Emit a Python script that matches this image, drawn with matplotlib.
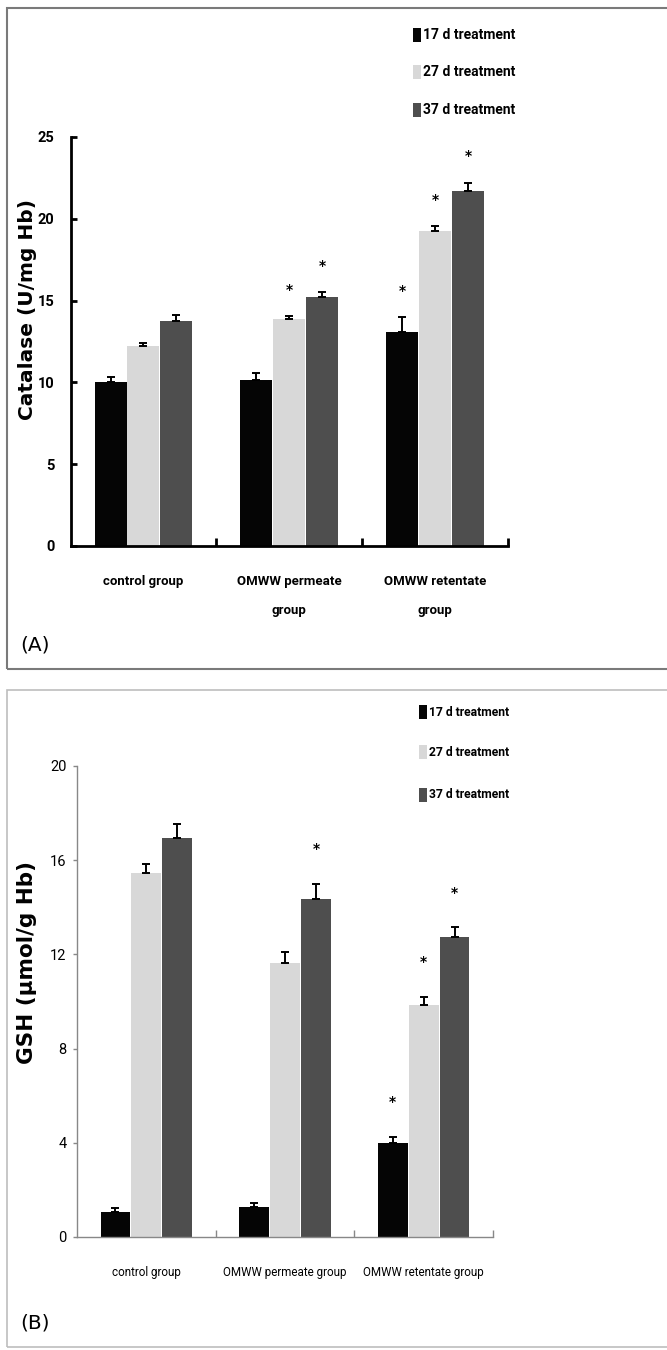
import numpy as np
import matplotlib
matplotlib.use("Agg")
import matplotlib.pyplot as plt
from matplotlib.patches import Rectangle

# data
groups_a = ["control group", "OMWW permeate\ngroup", "OMWW retentate\ngroup"]
groups_b = ["control group", "OMWW permeate group", "OMWW retentate group"]
series = ["17 d treatment", "27 d treatment", "37 d treatment"]
colors = ["#050505", "#d8d8d8", "#4e4e4e"]

catalase = [[10.0, 10.15, 13.1],
            [12.2, 13.9, 19.25],
            [13.75, 15.2, 21.7]]
catalase_err = [[0.3, 0.45, 0.9],
                [0.2, 0.15, 0.3],
                [0.35, 0.3, 0.5]]
catalase_sig = [[False, False, True],
                [False, True, True],
                [False, True, True]]

gsh = [[1.06, 1.27, 4.0],
       [15.45, 11.65, 9.85],
       [16.95, 14.35, 12.75]]
gsh_err = [[0.17, 0.17, 0.25],
           [0.4, 0.45, 0.35],
           [0.6, 0.65, 0.4]]
gsh_sig = [[False, False, True],
           [False, False, True],
           [False, True, True]]

W, H = 667, 1350
NARROW = ["Roboto", "DejaVu Sans"]

fig = plt.figure(figsize=(W / 100, H / 100), dpi=100)


def fx(px):
    return px / W


def fy(py):
    return 1 - py / H


def draw_panel(ax, vals, errs, sig, width, offset, star_off, bold_axes):
    x = np.arange(3)
    for i in range(3):
        xi = x + (i - 1) * offset
        ax.bar(xi, vals[i], width=width, color=colors[i], zorder=2)
        ax.errorbar(xi, vals[i], yerr=[np.zeros(3), errs[i]], fmt="none",
                    ecolor="black", elinewidth=1.4, capsize=3, capthick=1.4, zorder=3)
        for j in range(3):
            if sig[i][j]:
                ax.annotate("*", xy=(xi[j], vals[i][j] + errs[i][j]),
                            xytext=(0, star_off), textcoords="offset points",
                            ha="center", va="center", fontsize=10, fontweight="bold")
    ax.set_xlim(-0.5, 2.5)
    for s in ["top", "right"]:
        ax.spines[s].set_visible(False)
    if bold_axes:
        for s in ["left", "bottom"]:
            ax.spines[s].set_linewidth(2)
            ax.spines[s].set_color("black")
    else:
        for s in ["left", "bottom"]:
            ax.spines[s].set_linewidth(1)
            ax.spines[s].set_color("#888888")
    ax.set_xticks([0.5, 1.5, 2.5])
    ax.set_xticklabels([])
    ax.set_xticks(x, minor=True)
    ax.patch.set_alpha(0)


# panel frames
fig.add_artist(Rectangle((fx(7), fy(669)), fx(700), 661 / H, transform=fig.transFigure,
                         fill=False, edgecolor="#7a7a7a", lw=1.5))
fig.add_artist(Rectangle((fx(7), fy(1347)), fx(700), 657 / H, transform=fig.transFigure,
                         fill=False, edgecolor="#bdbdbd", lw=1.2))

# (A) catalase
axa = fig.add_axes([fx(70.5), fy(546), fx(437.5), 409 / H])
draw_panel(axa, catalase, catalase_err, catalase_sig, 0.22, 0.225, 19, True)
axa.set_ylim(0, 25)
axa.set_yticks([0, 5, 10, 15, 20, 25])
axa.tick_params(axis="y", direction="in", length=4, width=2, pad=11.5)
axa.tick_params(axis="x", which="major", direction="in", length=6, width=2)
axa.tick_params(axis="x", which="minor", length=0, pad=21)
for lab in axa.get_yticklabels():
    lab.set_family(NARROW)
    lab.set_fontweight("bold")
    lab.set_fontsize(10.5)
axa.set_xticklabels(groups_a, minor=True, family=NARROW, fontweight="bold",
                    fontsize=9.5, linespacing=2.6)
fig.text(fx(28), fy(309), "Catalase (U/mg Hb)", rotation=90, ha="center", va="center",
         fontsize=14.5, fontweight="bold")
fig.text(fx(20), fy(645), "(A)", fontsize=14.5, va="center", ha="left")

# (B) GSH
axb = fig.add_axes([fx(77), fy(1237), fx(416), 471 / H])
draw_panel(axb, gsh, gsh_err, gsh_sig, 0.215, 0.223, 25, False)
axb.set_ylim(0, 20)
axb.set_yticks([0, 4, 8, 12, 16, 20])
axb.tick_params(axis="y", direction="out", length=3, width=1, color="#888888", pad=4.5)
axb.tick_params(axis="x", which="major", direction="in", length=5, width=1, color="#888888")
axb.tick_params(axis="x", which="minor", length=0, pad=21)
for lab in axb.get_yticklabels():
    lab.set_family(NARROW)
    lab.set_fontsize(10.5)
axb.set_xticklabels(groups_b, minor=True, family=NARROW, fontsize=8.4)
fig.text(fx(27), fy(962), "GSH (\u03bcmol/g Hb)", rotation=90, ha="center", va="center",
         fontsize=15.5, fontweight="bold")
fig.text(fx(20), fy(1323), "(B)", fontsize=14.5, va="center", ha="left")


# legends drawn by hand at the corner of each panel
def draw_legend(x_sq, x_txt, rows, size):
    for i in range(3):
        fig.add_artist(Rectangle((fx(x_sq - 4), fy(rows[i] + 7)), fx(8), 14 / H,
                                 transform=fig.transFigure, color=colors[i], lw=0))
        fig.text(fx(x_txt), fy(rows[i]), series[i], family=NARROW, fontweight="bold",
                 fontsize=size, va="center", ha="left")


draw_legend(417, 423, [35, 72, 110], 10)
draw_legend(423, 429, [712, 752, 795], 8.7)

fig.savefig("out.png", dpi=100)
